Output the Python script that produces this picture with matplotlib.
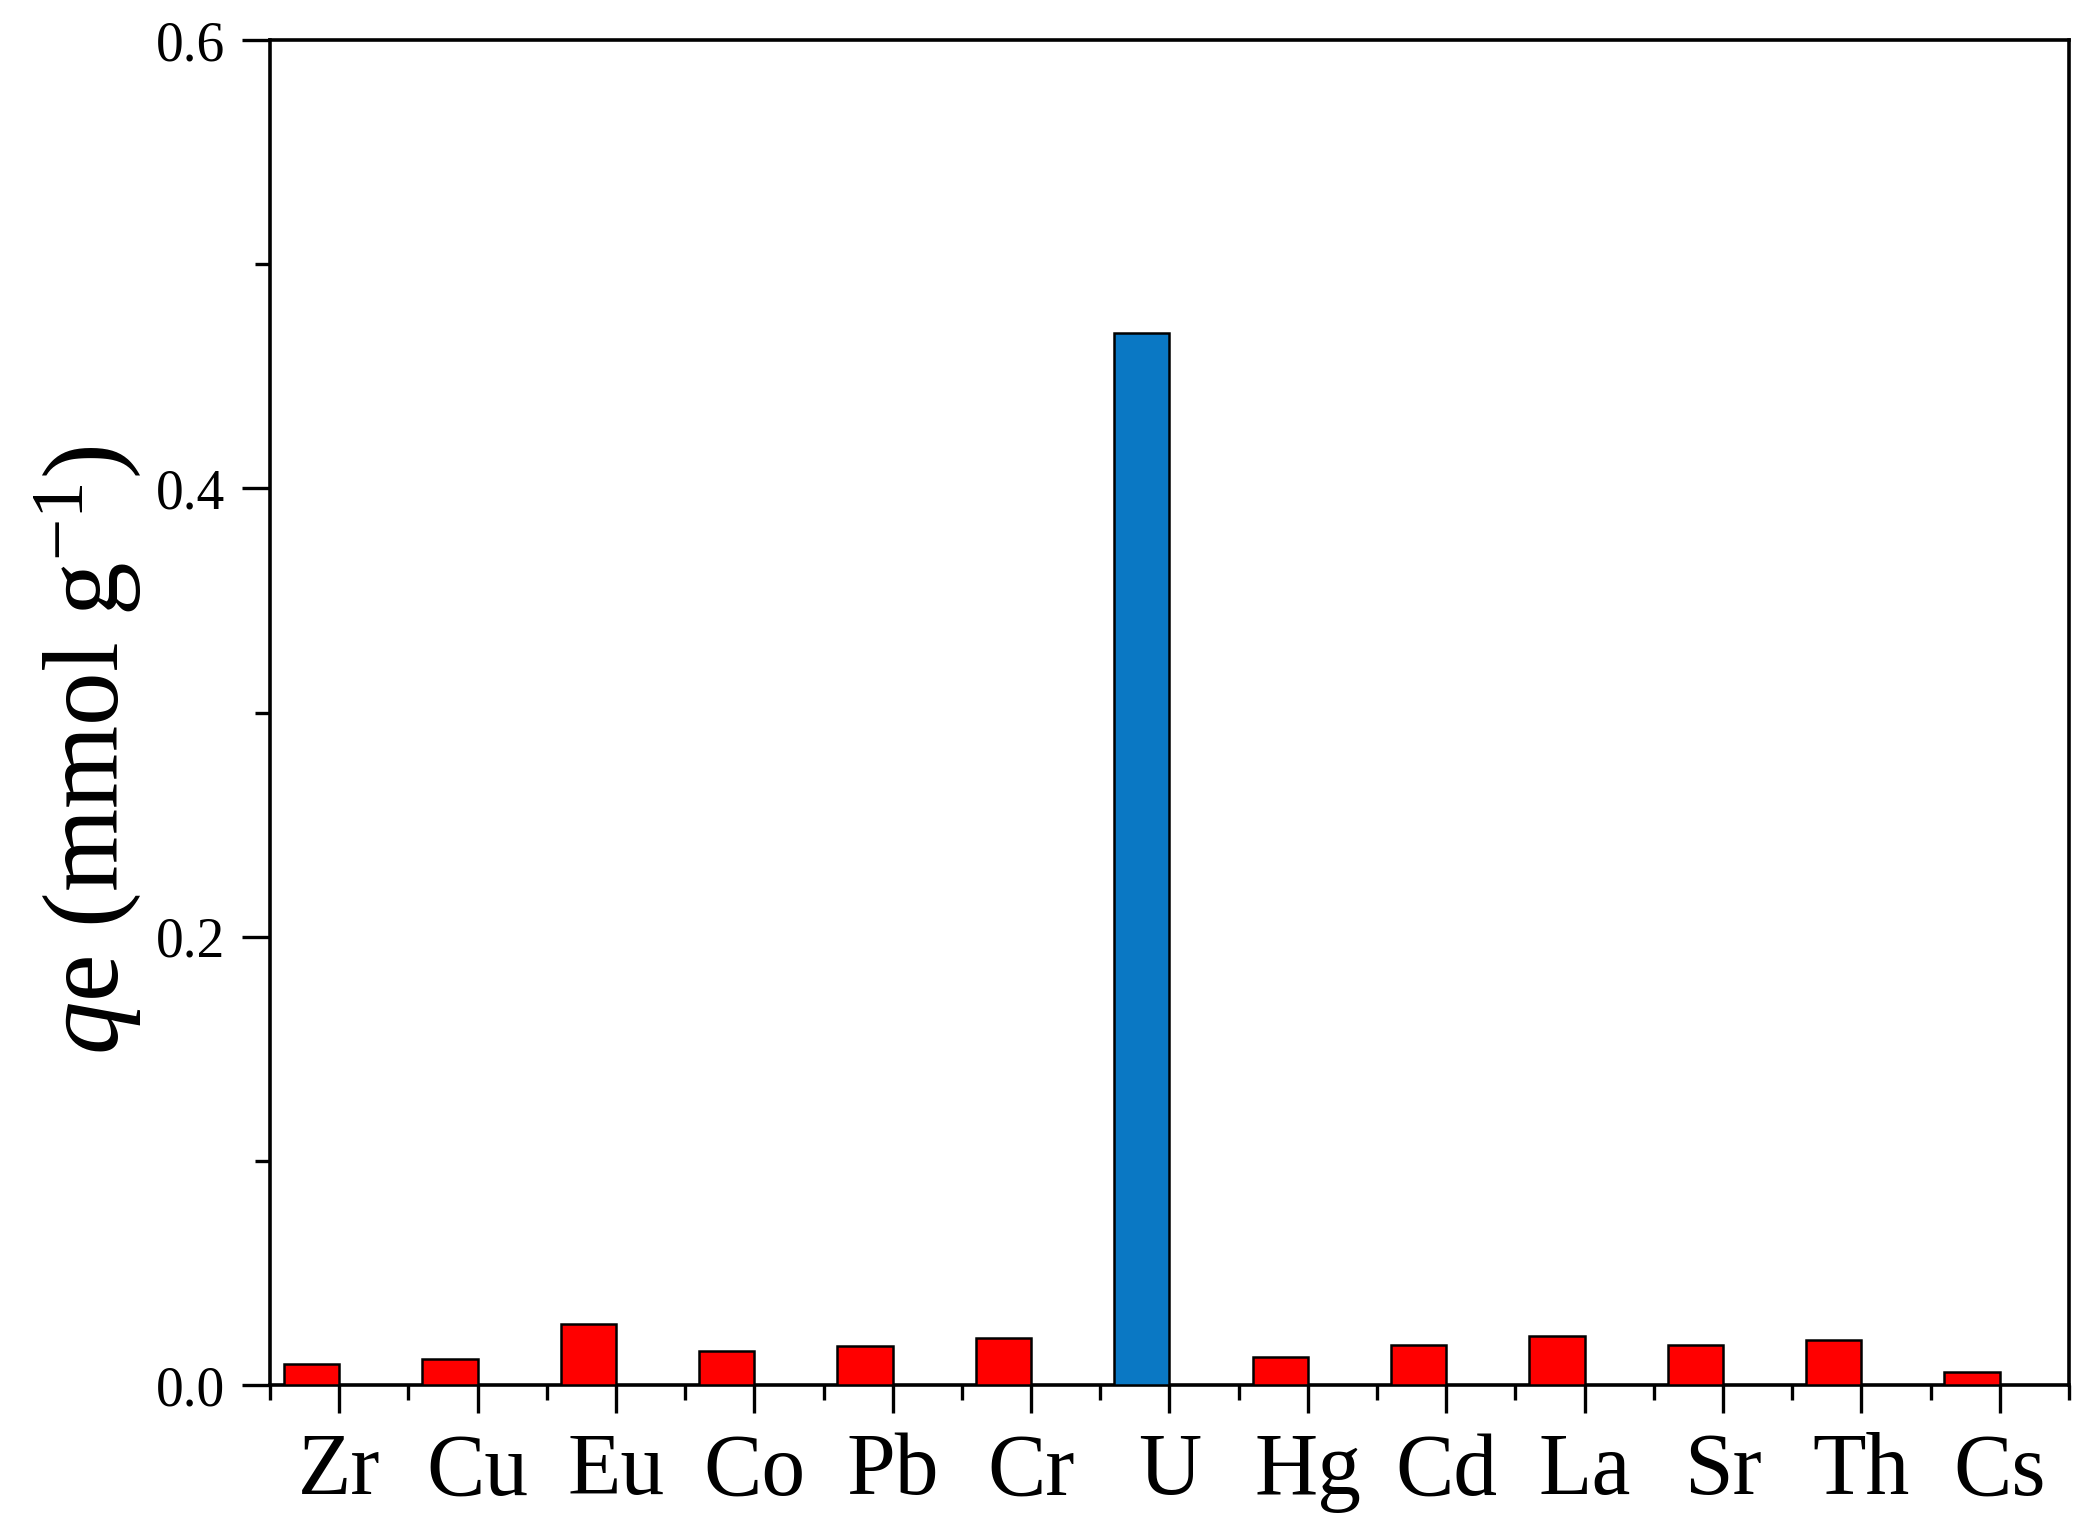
import matplotlib
matplotlib.use("Agg")
import matplotlib.pyplot as plt
from matplotlib.ticker import MultipleLocator

# Adsorption capacity of each metal ion
metals = ["Zr", "Cu", "Eu", "Co", "Pb", "Cr", "U", "Hg", "Cd", "La", "Sr", "Th", "Cs"]
qe = [0.0092, 0.0118, 0.0272, 0.0153, 0.0172, 0.0210, 0.4695,
      0.0126, 0.0177, 0.0217, 0.0177, 0.0200, 0.0056]
bar_colors = ["#FF0000"] * 6 + ["#0A78C4"] + ["#FF0000"] * 6

plt.rcParams["font.family"] = ["Liberation Serif", "DejaVu Serif"]
plt.rcParams["mathtext.fontset"] = "custom"
plt.rcParams["mathtext.rm"] = "Liberation Serif"
plt.rcParams["mathtext.it"] = "Liberation Serif:italic"

fig = plt.figure(figsize=(20.88, 15.22), dpi=100)
ax = fig.add_axes([0.1293, 0.090, 0.8616, 0.8837])

x = list(range(1, len(metals) + 1))
# bars sit just left of the tick (right edge on the tick)
ax.bar(x, qe, width=-0.4, align="edge", color=bar_colors,
       edgecolor="black", linewidth=1.8, zorder=3)

ax.set_xlim(0.5, 13.5)
ax.set_ylim(0, 0.6)
ax.set_xticks(x)
ax.set_xticklabels(metals)
ax.set_xticks([i + 0.5 for i in range(0, 14)], minor=True)
ax.yaxis.set_major_locator(MultipleLocator(0.2))
ax.yaxis.set_minor_locator(MultipleLocator(0.1))
ax.yaxis.set_major_formatter(plt.FormatStrFormatter("%.1f"))

for s in ax.spines.values():
    s.set_linewidth(2.6)

ax.tick_params(axis="both", which="major", direction="out", length=20,
               width=2.4)
ax.tick_params(axis="both", which="minor", direction="out", length=11,
               width=2.4)
ax.tick_params(axis="x", which="major", labelsize=63, pad=14)
ax.tick_params(axis="y", which="major", labelsize=40, pad=12)

fig.text(0.042, 1 - 750 / 1522, r"$q$e (mmol g$^{-1}$)", rotation=90,
         ha="center", va="center", fontsize=77)

fig.savefig("out.png", dpi=100, facecolor="white")
